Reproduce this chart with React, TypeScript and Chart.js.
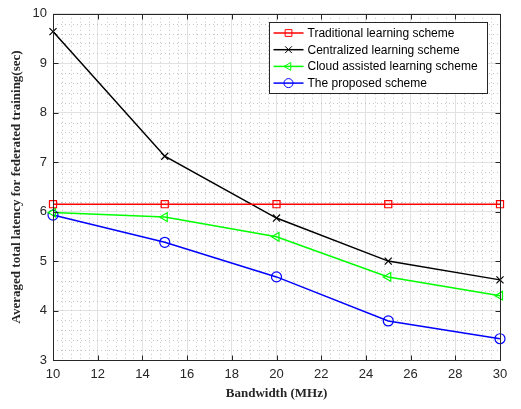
import React, { useEffect, useRef } from "react";
import { Chart, registerables } from "chart.js";

Chart.register(...registerables);

// Bandwidth (MHz) on the x axis
const bandwidth = [10, 15, 20, 25, 30];

// Averaged total latency (sec) for each scheme
const traditional = [6.15, 6.15, 6.15, 6.15, 6.15];
const centralized = [9.64, 7.12, 5.87, 5.0, 4.62];
const cloudAssisted = [5.98, 5.89, 5.49, 4.68, 4.3];
const proposed = [5.93, 5.38, 4.68, 3.79, 3.43];

const seriesLabels = [
  "Traditional learning scheme",
  "Centralized learning scheme",
  "Cloud assisted learning scheme",
  "The proposed scheme",
];

// Axis ranges and tick steps
const xRange = [10, 30];
const yRange = [3, 10];
const xStep = 2;
const yStep = 1;
const xMinorStep = 0.4;
const yMinorStep = 0.2;

const AXIS_COLOR = "#262626";
const SANS = "'Liberation Sans', Arial, Helvetica, sans-serif";
const SERIF = "'Liberation Serif', 'Times New Roman', serif";

type Marker = { style: string; rotation: number; color: string };

const markers: Marker[] = [
  { style: "rect", rotation: 0, color: "#ff0000" },
  { style: "crossRot", rotation: 0, color: "#000000" },
  { style: "triangle", rotation: -90, color: "#00ff00" },
  { style: "circle", rotation: 0, color: "#0000ff" },
];
const seriesValues = [traditional, centralized, cloudAssisted, proposed];

// Dotted minor grid, box outline with inward ticks, and the boxed legend
const matlabAxes = {
  id: "matlabAxes",
  beforeDatasetsDraw(chart: any) {
    const { ctx, chartArea: a, scales } = chart;
    const xs = scales.x;
    const ys = scales.y;
    ctx.save();
    ctx.strokeStyle = "#c4c4c4";
    ctx.lineWidth = 1;
    ctx.setLineDash([1, 3]);
    const nx = Math.round((xRange[1] - xRange[0]) / xMinorStep);
    for (let i = 1; i < nx; i++) {
      const v = xRange[0] + i * xMinorStep;
      if (Math.abs(v / xStep - Math.round(v / xStep)) < 1e-6) continue;
      const px = Math.round(xs.getPixelForValue(v)) + 0.5;
      ctx.beginPath();
      ctx.moveTo(px, a.top);
      ctx.lineTo(px, a.bottom);
      ctx.stroke();
    }
    const ny = Math.round((yRange[1] - yRange[0]) / yMinorStep);
    for (let i = 1; i < ny; i++) {
      const v = yRange[0] + i * yMinorStep;
      if (Math.abs(v / yStep - Math.round(v / yStep)) < 1e-6) continue;
      const py = Math.round(ys.getPixelForValue(v)) + 0.5;
      ctx.beginPath();
      ctx.moveTo(a.left, py);
      ctx.lineTo(a.right, py);
      ctx.stroke();
    }
    ctx.restore();
  },
  afterDraw(chart: any) {
    const { ctx, chartArea: a, scales } = chart;
    const xs = scales.x;
    const ys = scales.y;
    ctx.save();
    ctx.strokeStyle = AXIS_COLOR;
    ctx.lineWidth = 1;
    ctx.setLineDash([]);
    const L = Math.round(a.left) + 0.5;
    const R = Math.round(a.right) + 0.5;
    const T = Math.round(a.top) + 0.5;
    const B = Math.round(a.bottom) + 0.5;
    ctx.strokeRect(L, T, R - L, B - T);
    const tick = 5;
    for (let v = xRange[0]; v <= xRange[1]; v += xStep) {
      const px = Math.round(xs.getPixelForValue(v)) + 0.5;
      ctx.beginPath();
      ctx.moveTo(px, B);
      ctx.lineTo(px, B - tick);
      ctx.moveTo(px, T);
      ctx.lineTo(px, T + tick);
      ctx.stroke();
    }
    for (let v = yRange[0]; v <= yRange[1]; v += yStep) {
      const py = Math.round(ys.getPixelForValue(v)) + 0.5;
      ctx.beginPath();
      ctx.moveTo(L, py);
      ctx.lineTo(L + tick, py);
      ctx.moveTo(R, py);
      ctx.lineTo(R - tick, py);
      ctx.stroke();
    }

    // Legend box in the upper right of the plot area
    const bx = 269.5;
    const by = 22.5;
    const bw = 218;
    const bh = 71;
    ctx.fillStyle = "#ffffff";
    ctx.fillRect(bx, by, bw, bh);
    ctx.strokeStyle = AXIS_COLOR;
    ctx.strokeRect(bx, by, bw, bh);
    ctx.font = `12px ${SANS}`;
    ctx.textBaseline = "middle";
    ctx.textAlign = "left";
    const rowH = 16.7;
    chart.data.datasets.forEach((ds: any, i: number) => {
      const cy = by + 10.5 + i * rowH;
      ctx.strokeStyle = ds.borderColor;
      ctx.lineWidth = 1.5;
      ctx.beginPath();
      ctx.moveTo(bx + 4, cy);
      ctx.lineTo(bx + 34, cy);
      ctx.stroke();
      drawMarker(ctx, markers[i], bx + 19, cy);
      ctx.fillStyle = "#000000";
      ctx.fillText(ds.label, bx + 38, cy + 0.5);
    });
    ctx.restore();
  },
};

function drawMarker(ctx: CanvasRenderingContext2D, m: Marker, x: number, y: number) {
  const r = 4.5;
  ctx.save();
  ctx.strokeStyle = m.color;
  ctx.lineWidth = 1;
  ctx.beginPath();
  if (m.style === "rect") {
    ctx.rect(x - r * 0.75, y - r * 0.75, r * 1.5, r * 1.5);
  } else if (m.style === "crossRot") {
    const d = r * 0.75;
    ctx.moveTo(x - d, y - d);
    ctx.lineTo(x + d, y + d);
    ctx.moveTo(x + d, y - d);
    ctx.lineTo(x - d, y + d);
  } else if (m.style === "triangle") {
    ctx.moveTo(x - r, y);
    ctx.lineTo(x + r * 0.5, y - r * 0.87);
    ctx.lineTo(x + r * 0.5, y + r * 0.87);
    ctx.closePath();
  } else {
    ctx.arc(x, y, r, 0, Math.PI * 2);
  }
  ctx.stroke();
  ctx.restore();
}

export default function App() {
  const canvasRef = useRef<HTMLCanvasElement | null>(null);

  useEffect(() => {
    if (!canvasRef.current) return;
    const datasets = seriesValues.map((vals, i) => ({
      label: seriesLabels[i],
      data: bandwidth.map((b, j) => ({ x: b, y: vals[j] })),
      borderColor: markers[i].color,
      backgroundColor: "rgba(0,0,0,0)",
      borderWidth: 1.5,
      pointStyle: markers[i].style,
      pointRotation: markers[i].rotation,
      pointRadius: 5,
      pointBorderWidth: 1.2,
      pointBorderColor: markers[i].color,
      pointBackgroundColor: "rgba(0,0,0,0)",
      tension: 0,
      clip: false,
    }));

    const chart = new Chart(canvasRef.current, {
      type: "line",
      data: { datasets },
      plugins: [matlabAxes],
      options: {
        animation: false,
        responsive: false,
        maintainAspectRatio: false,
        layout: { padding: { top: 7, right: 21, left: 0, bottom: 0 } },
        plugins: {
          legend: { display: false },
          tooltip: { enabled: false },
        },
        scales: {
          x: {
            type: "linear",
            min: xRange[0],
            max: xRange[1],
            afterFit: (s: any) => {
              s.height = 49;
            },
            ticks: {
              stepSize: xStep,
              color: AXIS_COLOR,
              font: { family: SANS, size: 13 },
              padding: 7,
              maxRotation: 0,
            },
            grid: { color: "#e2e2e2", lineWidth: 1, drawTicks: false },
            border: { display: false },
            title: {
              display: true,
              text: "Bandwidth (MHz)",
              color: AXIS_COLOR,
              font: { family: SERIF, size: 13, weight: "bold" },
              padding: 8,
            },
          },
          y: {
            type: "linear",
            min: yRange[0],
            max: yRange[1],
            afterFit: (s: any) => {
              s.width = 53;
            },
            ticks: {
              stepSize: yStep,
              color: AXIS_COLOR,
              font: { family: SANS, size: 13 },
              padding: 6,
            },
            grid: { color: "#e2e2e2", lineWidth: 1, drawTicks: false },
            border: { display: false },
            title: {
              display: true,
              text: "Averaged total latency for federated training(sec)",
              color: AXIS_COLOR,
              font: { family: SERIF, size: 13, weight: "bold" },
              padding: 9,
            },
          },
        },
      } as any,
    });
    return () => chart.destroy();
  }, []);

  return (
    <div style={{ position: "fixed", left: 0, top: 0, width: 521, height: 409, background: "#fff" }}>
      <canvas ref={canvasRef} width={521} height={409} style={{ width: 521, height: 409 }} />
    </div>
  );
}
